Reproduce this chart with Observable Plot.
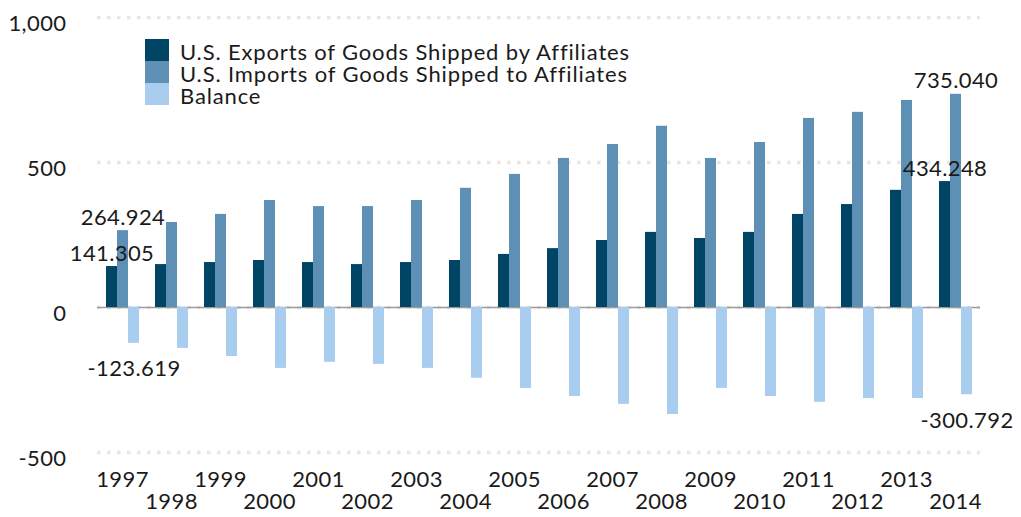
<!DOCTYPE html>
<html><head><meta charset="utf-8">
<script src="https://cdn.jsdelivr.net/npm/d3@7"></script>
<script src="https://cdn.jsdelivr.net/npm/@observablehq/plot@0.6"></script>
<style>
body{margin:0;background:#fff;font-family:Lato,sans-serif;}
#wrap{position:relative;width:1021px;height:517px;}
#wrap svg{position:absolute;left:0;top:0;}
#legend{position:absolute;left:145px;top:39px;}
.row{display:flex;align-items:flex-start;height:22px;}
.sw{width:24px;height:22px;margin-right:11px;}
.lbl{display:block;height:21px;overflow:visible;font-size:22px;color:#1a1a1a;line-height:22px;white-space:nowrap;letter-spacing:0.85px;position:relative;top:2px;}
</style></head><body><div id="wrap"><div id="legend"></div></div>
<script>
const years = [1997,1998,1999,2000,2001,2002,2003,2004,2005,2006,2007,2008,2009,2010,2011,2012,2013,2014];
const seriesNames = ["U.S. Exports of Goods Shipped by Affiliates","U.S. Imports of Goods Shipped to Affiliates","Balance"];
const exportsVals = [141.305,148,155,162,155,148,155,162,183,203,231,259,238,259,321,355,404,434.248];
const importsVals = [264.924,293,321,369,348,348,369,411,459,514,562,625,514,569,652,673,714,735.040];
const balanceVals = [-123.619,-141,-169,-210,-189,-196,-210,-244,-279,-307,-334,-369,-279,-307,-327,-314,-314,-300.792];
const seriesColors = ["#004466","#5e90b5","#a9cdef"];
const yTicks = [-500,0,500,1000];
const yTickLabels = ["-500","0","500","1,000"];
const labeledYears = [1997,2014];

const valueSets = [exportsVals, importsVals, balanceVals];
const rows = [];
years.forEach((yr,i)=>seriesNames.forEach((s,j)=>rows.push({year:yr, series:s, value:valueSets[j][i]})));
const labelRows = rows.filter(d=>labeledYears.includes(d.year));
const oddYears = years.filter((d,i)=>i%2===0);
const evenYears = years.filter((d,i)=>i%2===1);
const textColor = "#1a1a1a";

const common = {
  width: 1021, height: 517,
  marginLeft: 97, marginRight: 41, marginTop: 17, marginBottom: 65,
  style: {fontFamily: "Lato, sans-serif", color: textColor, background: "transparent", letterSpacing: "0.4px"},
  y: {domain: [-500, 1000], axis: null}
};

// background layer: grid, zero line, y tick labels
const back = Plot.plot({
  ...common,
  marks: [
    Plot.ruleY(yTicks, {stroke: "#e6e6e6", strokeWidth: 3.5, strokeDasharray: "3.5,6.5"}),
    Plot.ruleY([0], {stroke: "#9a9a9a", strokeWidth: 1.5}),
    Plot.text(yTicks, {y: d=>d, text: (d,i)=>yTickLabels[i], frameAnchor: "left", textAnchor: "end", dx: -31, dy: 6, fontSize: 22, fill: textColor})
  ]
});

// foreground layer: grouped bars, value labels, year labels
const front = Plot.plot({
  ...common,
  fx: {domain: years, paddingInner: 0.3, paddingOuter: 0.16, axis: null, label: null},
  x: {domain: seriesNames, padding: 0, axis: null},
  color: {domain: seriesNames, range: seriesColors},
  marks: [
    Plot.barY(rows, {fx: "year", x: "series", y: "value", fill: "series"}),
    Plot.text(labelRows.filter(d=>d.value>=0), {fx: "year", x: "series", y: "value", text: d=>d.value.toFixed(3), dy: -13, fontSize: 22, fill: textColor}),
    Plot.text(labelRows.filter(d=>d.value<0), {fx: "year", x: "series", y: "value", text: d=>d.value.toFixed(3), dy: 26, fontSize: 22, fill: textColor}),
    Plot.text(oddYears, {fx: d=>d, text: d=>String(d), frameAnchor: "bottom", dy: 34, fontSize: 22, fill: textColor}),
    Plot.text(evenYears, {fx: d=>d, text: d=>String(d), frameAnchor: "bottom", dy: 56, fontSize: 22, fill: textColor})
  ]
});

const wrap = document.getElementById("wrap");
wrap.prepend(front);
wrap.prepend(back);

const legend = document.getElementById("legend");
seriesNames.forEach((s,i)=>{
  const r = document.createElement("div"); r.className = "row";
  const sw = document.createElement("div"); sw.className = "sw"; sw.style.background = seriesColors[i];
  const l = document.createElement("span"); l.className = "lbl"; l.textContent = s;
  r.appendChild(sw); r.appendChild(l); legend.appendChild(r);
});
</script></body></html>
